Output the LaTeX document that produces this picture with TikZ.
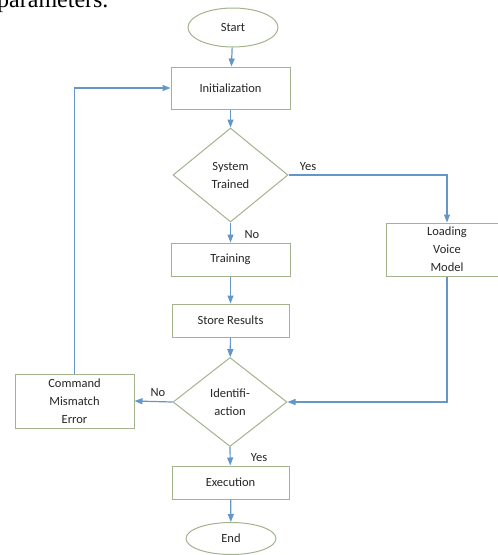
\documentclass[tikz,border=0pt]{standalone}
\usepackage{fontspec}
\setmainfont{Carlito}
\newfontfamily\serifpara{Liberation Serif}
\usetikzlibrary{shapes.geometric,arrows.meta}
\definecolor{boxgreen}{HTML}{A3B38E}
\definecolor{arrowblue}{HTML}{6496C8}
\definecolor{txtgray}{HTML}{262626}
\tikzset{
  blk/.style={draw=boxgreen,line width=1pt,fill=white,rectangle,inner sep=0pt,
    text=txtgray,align=center,font=\fontsize{12.5}{18}\selectfont},
  oval/.style={blk,ellipse},
  dmd/.style={blk,diamond},
  flow/.style={draw=arrowblue,line width=1.2pt,-{Triangle[width=6pt,length=8pt]}},
  lbl/.style={text=txtgray,font=\fontsize{12.5}{15}\selectfont,inner sep=0pt}
}
\begin{document}
\begin{tikzpicture}[x=1pt,y=-1pt]
\useasboundingbox (0,0) rectangle (498,555);
\clip (0,0) rectangle (498,555);
\node[anchor=base west,inner sep=0pt,font=\serifpara\fontsize{24}{28}\selectfont] (para) at (-3,7) {parameters.};
\node[oval,minimum width=90pt,minimum height=39pt] (start) at (233,27.5) {Start};
\node[blk,minimum width=119pt,minimum height=42pt] (init) at (230.5,88) {Initialization};
\node[dmd,minimum width=115pt,minimum height=94pt] (sys) at (230.5,175) {System\\Trained};
\node[blk,minimum width=119pt,minimum height=33pt] (train) at (230.5,259.5) {Training};
\node[blk,minimum width=117pt,minimum height=33pt] (store) at (230.5,320.5) {Store Results};
\node[dmd,minimum width=114pt,minimum height=89pt] (ident) at (230,402) {Identifi-\\action};
\node[blk,minimum width=117pt,minimum height=33pt] (exec) at (230.5,482.5) {Execution};
\node[oval,minimum width=90pt,minimum height=32pt] (end) at (231,538.5) {End};
\node[blk,minimum width=122pt,minimum height=53pt,text width=122pt] (load) at (447,249.5) {Loading\\Voice\\Model};
\node[blk,minimum width=119pt,minimum height=54pt] (cmd) at (74.5,401) {Command\\Mismatch\\Error};

\draw[flow] (start) -- (init);
\draw[flow] (init) -- (sys);
\draw[flow] (sys.east) -| (load.north);
\draw[flow] (sys.south) -- (train);
\draw[flow] (train) -- (store);
\draw[flow] (store) -- (ident);
\draw[flow] (load.south) |- (ident.east);
\draw[flow] (ident.west) -- (cmd.east);
\draw[flow] (cmd.north) |- (init.west);
\draw[flow] (ident.south) -- (exec);
\draw[flow] (exec) -- (end);

\node[lbl] (yes1) at (308,167) {Yes};
\node[lbl] (no1) at (252,235) {No};
\node[lbl] (no2) at (158,393) {No};
\node[lbl] (yes2) at (259,458) {Yes};
\end{tikzpicture}
\end{document}
